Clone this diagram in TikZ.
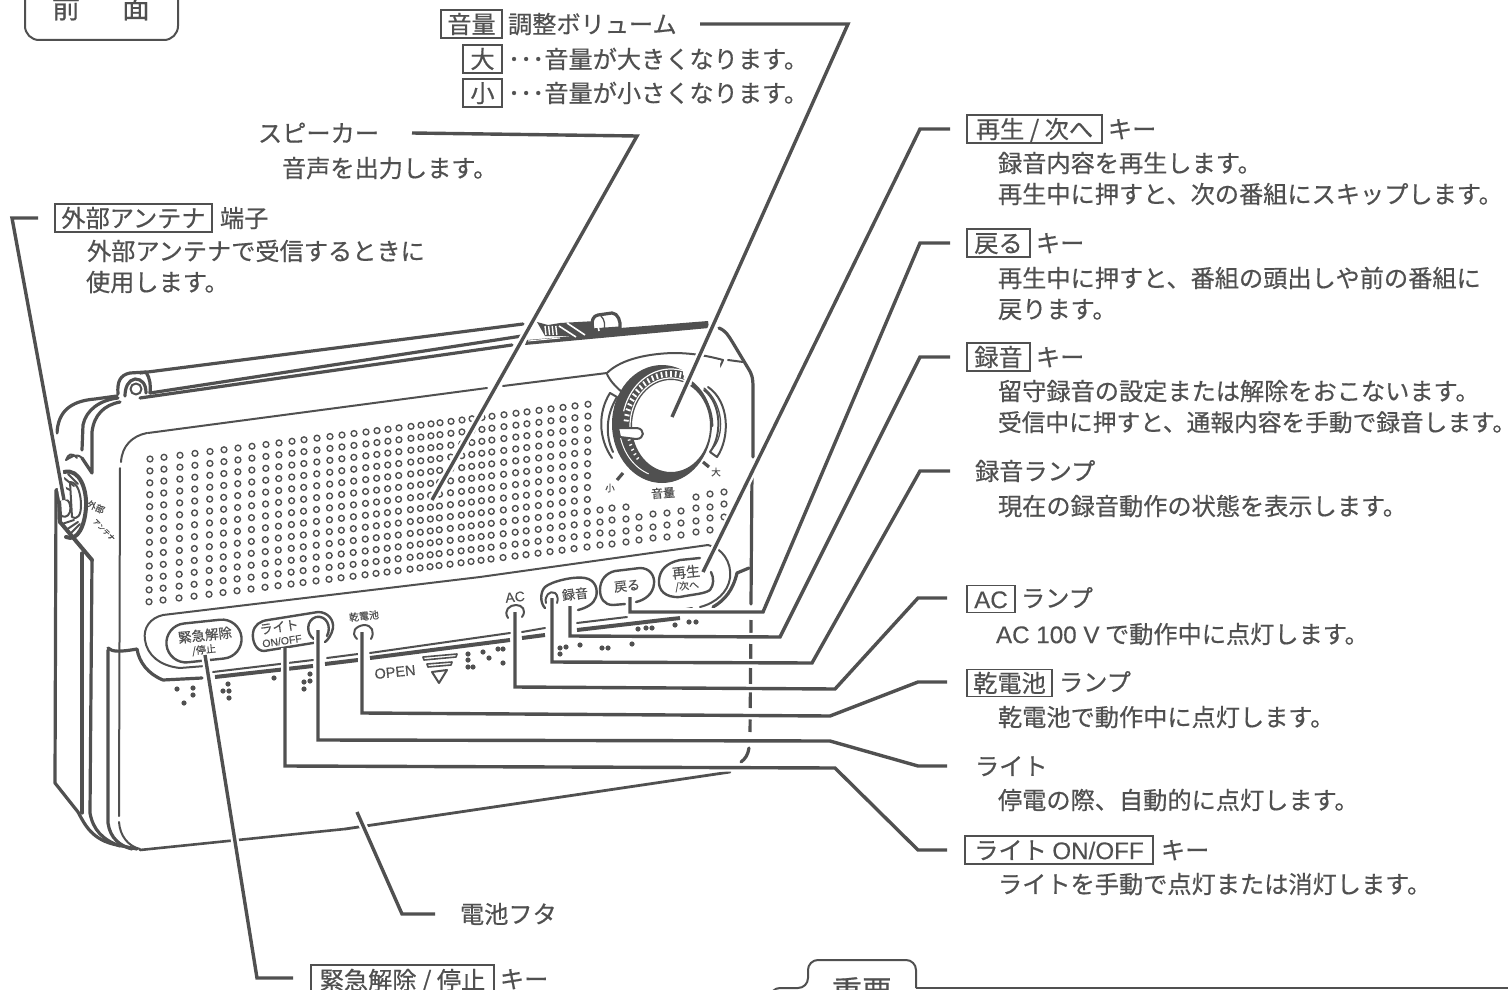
\documentclass[tikz,border=0pt]{standalone}
\usepackage{fontspec}
\setmainfont[FakeBold=0.5]{Noto Sans CJK JP}
\newfontfamily\lat[FakeBold=0.3]{Liberation Sans}
\definecolor{ink}{HTML}{505050}
\usetikzlibrary{shapes.misc}
\tikzset{
  txt/.style={anchor=west,inner sep=0pt,outer sep=0pt,text=ink,font=\fontsize{24.2}{26}\selectfont,text height=21.3pt,text depth=2.9pt},
  boxl/.style={txt,draw=ink,line width=1.6pt,inner sep=0pt,anchor=west,align=center},
  keyt/.style={inner sep=0pt,text=ink},
  leader/.style={draw=ink,line width=3.4pt,line join=miter,preaction={draw=white,line width=8pt,line cap=butt}},
  shell/.style={draw=ink,line width=3.2pt,line cap=round,line join=round},
  thin/.style={draw=ink,line width=2pt,line cap=round,line join=round},
  hair/.style={draw=ink,line width=1.3pt,line cap=round,line join=round},
  hole/.style={draw=ink,line width=1.4pt},
  bump/.style={fill=ink,draw=none},
  pill/.style={draw=ink,line width=2.4pt,rounded rectangle,minimum height=36pt},
}
\begin{document}
\begin{tikzpicture}[x=1pt,y=-1pt]
\useasboundingbox (0,0) rectangle (1508,990);
\clip (0,0) rectangle (1508,990);
\fill[white] (0,0) rectangle (1508,990);

% ---------- speaker holes
\def\colxs{150,164,180,195,210,224,238,252,266,279,292,304,317,330,342,354,366,377,388,399,411,421,431,440,451,462,472,482,492,504,516,527,539,551,563,575,588}
\foreach \cx in \colxs {
  \foreach \r in {0,...,12} {
    \draw[hole] ({\cx-0.08*\r},{459-0.125*(\cx-150)+11.9*\r}) circle[radius=2.9pt];
  }
}
\foreach \cx/\cy in {600/510,600/522,600/533,600/545,612/508,612/520,612/533,612/544,626/507,626/519,626/531,626/542,639/517,639/528,639/540,653/514,653/527,653/538,667/513,667/525,667/537,681/511,681/523,681/535,696/497,696/508,696/521,696/532,710/494,710/507,710/518,710/530,724/492,724/504,724/517} {
  \draw[hole] (\cx,\cy) circle[radius=2.9pt];
}

% ---------- carrying strap / top edge
\draw[shell] (140,373) -- (523,324);
\draw[shell] (150,393) -- (522,336);
\draw[shell] (140,398) -- (512,345);
% top-right band and clip
\fill[ink] (537,322) -- (548,325) -- (560,323) -- (596,321) -- (596,331) -- (620,328) -- (708,321) -- (709,328) -- (525,345) -- (527,340) -- (575,336) -- (545,336) -- cycle;
\foreach \i in {0,...,3} { \draw[white,line width=1.4pt] ({545+3.6*\i},326) -- ({546+3.6*\i},335); }
\draw[white,line width=1.6pt] (559,326) -- (576,337);
\draw[white,line width=1.6pt] (567,323) -- (585,335);
\draw[white,line width=1pt] (528,341) -- (560,338);
\draw[shell,fill=white] (593,330) .. controls (591,320) and (593,316) .. (598,315) -- (612,313) .. controls (618,313) and (621,322) .. (620,328) -- cycle;
\draw[white,line width=1.6pt] (597,321) -- (599,331);
\draw[hair] (601,316) .. controls (605,320) and (605,325) .. (604,330);
% top-left hinge
\draw[shell] (118,394) .. controls (117,382) and (120,375) .. (130,373) -- (146,372) .. controls (150,378) and (151,386) .. (150,393);
\draw[shell] (125,396) .. controls (125,388) and (128,380) .. (135,379) .. controls (142,379) and (146,384) .. (146,393);
\draw[hair,line width=2pt] (136,389) circle[radius=5.5pt];

% ---------- shell, right side
\draw[shell] (719,328) .. controls (726,331) and (728,335) .. (733,343) -- (748,368) .. controls (752,374) and (753,378) .. (753,388) -- (753,457);
\draw[shell] (752,470) -- (751,604);
\draw[shell,line cap=butt,dash pattern=on 16pt off 8pt] (751,620) -- (750,737);
\draw[shell] (749,748) .. controls (748,755) and (745,759) .. (741,762);

% ---------- front panel outline
\draw[thin] (147,433) .. controls (132,436) and (122,446) .. (121,462);
\draw[thin] (148,433) -- (487,388);
\draw[thin] (503,386) -- (607,373);
\draw[thin] (607,373) .. controls (618,362) and (640,354) .. (673,353) .. controls (695,353) and (712,357) .. (723,360);
\draw[thin] (728,360) -- (743,362);
\draw[thin] (607,374) .. controls (610,381) and (616,387) .. (623,393);
\draw[thin] (723,360) .. controls (720,368) and (714,376) .. (705,383);
\draw[thin] (120,468) -- (119,816);
\draw[thin] (119,822) .. controls (120,836) and (128,846) .. (140,849);

% bottom edge
\draw[shell,line width=2.6pt] (140,850) -- (345,829);
\draw[shell,line width=2.8pt] (345,829) -- (730,772);

% left body
\draw[shell] (117,396) -- (95,399) .. controls (70,401) and (58,412) .. (57,433);
\draw[shell] (118,398) .. controls (100,400) and (86,410) .. (83,425) -- (82,450);
\draw[shell] (120,402) .. controls (104,405) and (94,415) .. (92,432) -- (92,473) -- (82,458);
\draw[thin] (82,458) .. controls (76,452) and (70,458) .. (66,460) .. controls (68,454) and (72,452) .. (77,458);
\draw[shell] (56,490) -- (55,783) -- (78,812) .. controls (85,825) and (92,840) .. (117,845) -- (137,849);
\draw[shell] (92,560) -- (90,813) .. controls (93,830) and (103,840) .. (120,846);
\draw[shell] (82,553) -- (82,813);
\draw[shell,line width=4pt] (60,522) -- (92,560);
\draw[shell] (108,650) -- (108,823) .. controls (110,838) and (120,846) .. (132,849);
\draw[shell] (108,648) .. controls (112,652) and (120,652) .. (137,649) .. controls (139,662) and (148,674) .. (163,680) -- (202,678);
% jack
\draw[shell,line width=4pt] (64,472) .. controls (80,468) and (87,490) .. (86,507) .. controls (85,525) and (78,542) .. (66,537);
\draw[thin,fill=white] (70,482) .. controls (78,482) and (81,495) .. (81,505) .. controls (81,515) and (78,520) .. (72,517) -- cycle;
\foreach \hx/\hy/\hu/\hv in {64/478/74/486,68/474/78/484,62/486/70/490,62/524/74/520,66/530/78/522,70/534/80/524} {
  \draw[hair,line width=2pt] (\hx,\hy) -- (\hu,\hv);
}
\draw[shell,line width=4pt] (57,490) .. controls (60,500) and (60,520) .. (60,522);
\draw[thin] (60,500) .. controls (66,496) and (72,502) .. (70,512) .. controls (68,518) and (62,518) .. (60,514);
\node[keyt,font=\fontsize{9}{9}\selectfont,rotate=-25] (sidea) at (96,507) {外部};
\node[keyt,font=\fontsize{7}{8}\selectfont,rotate=-45] (sideb) at (104,530) {アンテナ};

% ---------- button panel
\draw[thin] (163,615) -- (480,577) -- (708,545);
\draw[thin] (163,615) .. controls (150,618) and (143,628) .. (145,640) .. controls (147,655) and (160,666) .. (180,668) -- (205,666);
\draw[thin] (708,545) .. controls (722,548) and (732,562) .. (730,578) .. controls (728,592) and (716,603) .. (700,607);
\draw[thin] (680,610) -- (692,608);
\draw[thin] (213,672) -- (313,660);
\draw[thin] (327,658) -- (358,654);
\draw[thin] (370,653) -- (510,633);
\draw[thin] (522,632) -- (545,628);
\draw[thin] (577,623) -- (627,617);
% thick lower band
\draw[shell,line width=4pt,line cap=butt] (215,677) -- (313,666);
\draw[shell,line width=4pt,line cap=butt] (325,664) -- (358,660);
\draw[shell,line width=4pt,line cap=butt] (370,658) -- (510,640);
\draw[shell,line width=4pt,line cap=butt] (522,638) -- (545,635);
\draw[shell,line width=4pt,line cap=butt] (577,630) -- (680,618);
\draw[shell] (713,607) .. controls (725,600) and (733,590) .. (737,573) -- (749,568);

% buttons
\node[pill,minimum width=82pt,minimum height=39pt,rotate=6] (bKinkyu) at (204,641) {};
\node[keyt,font=\fontsize{13.5}{14}\selectfont,rotate=6] (tKinkyu1) at (205,635) {緊急解除};
\node[keyt,font=\fontsize{10}{10}\selectfont,rotate=6] (tKinkyu2) at (204,650) {/停止};
\draw[thin,line width=2.4pt] (319,642) -- (264,651) .. controls (256,651) and (252,641) .. (253,633) .. controls (254,625) and (260,621) .. (268,620) -- (318,612) .. controls (328,612) and (334,620) .. (333,628) .. controls (332,634) and (328,640) .. (325,642);
\draw[thin,line width=2.4pt] (314,639) .. controls (306,634) and (306,620) .. (316,617) .. controls (326,615) and (332,626) .. (327,636);
\node[keyt,font=\fontsize{13}{14}\selectfont,rotate=8] (tLight1) at (279,627) {ライト};
\node[keyt,font=\lat\fontsize{10.5}{11}\selectfont,rotate=8] (tLight2) at (282,641) {ON/OFF};
\draw[thin] (357,639) .. controls (350,632) and (356,626) .. (364,625) .. controls (372,625) and (375,632) .. (371,639);
\node[keyt,font=\fontsize{10}{10}\selectfont,rotate=6] (tDry) at (364,616) {乾電池};
\draw[thin] (508,618) .. controls (503,610) and (510,605) .. (516,605) .. controls (522,605) and (527,610) .. (522,617);
\node[keyt,font=\lat\fontsize{14}{14}\selectfont,rotate=6] (tAC) at (515,597) {AC};
% rec pill
\draw[thin,line width=2.4pt] (545,608) .. controls (540,603) and (540,592) .. (545,587) .. controls (552,581) and (575,576) .. (585,578) .. controls (596,580) and (598,590) .. (596,597) .. controls (594,604) and (586,608) .. (578,610);
\draw[thin] (546,603) .. controls (544,596) and (550,590) .. (555,593) .. controls (558,595) and (558,600) .. (557,603);
\node[keyt,font=\fontsize{13}{14}\selectfont,rotate=6] (tRec) at (575,594) {録音};
% back pill
\draw[thin,line width=2.4pt] (625,604) -- (613,605) .. controls (604,605) and (600,598) .. (600,590) .. controls (600,580) and (606,573) .. (615,571) -- (640,568) .. controls (650,568) and (655,576) .. (654,584) .. controls (653,594) and (645,600) .. (636,602);
\node[keyt,font=\fontsize{13}{14}\selectfont,rotate=6] (tBack) at (627,586) {戻る};
% play pill
\draw[thin,line width=2.4pt] (710,590) .. controls (704,594) and (695,594) .. (680,597) .. controls (665,598) and (658,590) .. (659,580) .. controls (660,570) and (666,563) .. (680,560) -- (700,558);
\draw[thin,line width=2.4pt] (711,572) .. controls (714,578) and (714,585) .. (710,590);
\node[keyt,font=\fontsize{14}{14}\selectfont,rotate=6] (tPlay1) at (686,572) {再生};
\node[keyt,font=\fontsize{10}{10}\selectfont,rotate=6] (tPlay2) at (687,586) {/次へ};

% OPEN mark
\node[keyt,font=\lat\fontsize{14.5}{15}\selectfont,rotate=6] (tOpen) at (395,672) {OPEN};
\draw[thin,line width=1.6pt] (423,657) -- (457,654) -- (456,657) -- (424,660) -- cycle;
\draw[thin,line width=1.6pt] (427,664) -- (452,662) -- (451,665) -- (428,667) -- cycle;
\draw[thin] (432,672) -- (447,670) -- (439,683) -- cycle;

% bumps
\foreach \bx/\by in {177/689,193/688,193/695,184/703,228/684,223/691,229/691,229/698,274/678,310/674,310/681,304/682,304/689,468/654,483/652,498/649,503/649,468/660,468/667,473/667,489/658,503/663,560/648,566/647,580/645,602/648,608/648,632/644,560/654,638/629,646/628,652/628,675/625,689/622,696/622} {
  \fill[bump] (\bx,\by) circle[radius=2.6pt];
}

% ---------- knob
\fill[ink,even odd rule] (662,424) ellipse [x radius=50pt,y radius=59pt] (671,426) ellipse [x radius=39pt,y radius=46pt];
\fill[white] (683,360) -- (720,360) -- (722,424) -- (712,424) .. controls (712,400) and (700,384) .. (683,375) -- cycle;
\draw[shell,line width=2.6pt] plot[smooth,samples=40,domain=-62:0] ({672+40*cos(\x)},{426+47*sin(\x)});
\draw[white,line width=1.2pt] plot[smooth,samples=40,domain=195:290] ({671+49*cos(\x)},{426+57*sin(\x)});
\draw[white,line width=1.2pt] plot[smooth,samples=40,domain=170:300] ({671+41*cos(\x)},{426+48*sin(\x)});
\draw[white,line width=1pt] plot[smooth,samples=40,domain=110:165] ({664+45*cos(\x)},{424+53*sin(\x)});
\foreach \t in {186,192,...,294} {
  \draw[white,line width=1.8pt] ({671+42.5*cos(\t)},{426+49.5*sin(\t)}) -- ({671+47.5*cos(\t)},{426+55*sin(\t)});
}
\foreach \t in {140,146,...,172} {
  \draw[white,line width=1.3pt] ({671+42*cos(\t)},{426+49*sin(\t)}) -- ({671+45*cos(\t)},{426+52*sin(\t)});
}
\draw[thin,fill=white] (618,428) -- (637,428) .. controls (645,429) and (645,439) .. (636,439) -- (620,437) -- cycle;
\draw[hair,line width=2pt] (610,393) .. controls (598,412) and (598,438) .. (612,458);
\draw[hair,line width=2pt] (610,393) -- (617,397);
\draw[hair,line width=2pt] (617,397) .. controls (606,415) and (605,435) .. (613,452);
\draw[hair,line width=2pt] (708,387) .. controls (730,402) and (730,438) .. (717,457) -- (710,452) .. controls (722,436) and (722,404) .. (704,390);
\draw[hair] (704,388) .. controls (724,404) and (725,436) .. (712,449);
\draw[shell,line cap=butt] (623,473) -- (617,480);
\draw[shell,line cap=butt] (703,462) -- (709,467);
\node[keyt,font=\fontsize{9.5}{10}\selectfont] (tSmall) at (610,488) {小};
\node[keyt,font=\fontsize{9.5}{10}\selectfont] (tBig) at (716,472) {大};
\node[keyt,font=\fontsize{12}{12}\selectfont,rotate=4] (tVol) at (663,493) {音量};

% ---------- ends of the leaders
\coordinate (eVol) at (672,417);
\coordinate (eSpk) at (432,500);
\coordinate (eAnt) at (64,500);
\coordinate (ePlay) at (703,572);
\coordinate (eBack) at (630,597);
\coordinate (eRec) at (570,606);
\coordinate (eRecL) at (552,598);
\coordinate (eAC) at (515,612);
\coordinate (eDry) at (362,632);
\coordinate (eLamp) at (318,630);
\coordinate (eOnOff) at (285,648);
\coordinate (eLid) at (357,812);
\coordinate (eStop) at (205,655);

\coordinate (sVol) at (700,24);
\coordinate (sSpk) at (412,133);
\coordinate (sAnt) at (38,218);
\coordinate (sPlay) at (950,129);
\coordinate (sBack) at (950,243);
\coordinate (sRec) at (950,357);
\coordinate (sRecL) at (950,471);
\coordinate (sAC) at (947,598);
\coordinate (sDry) at (947,682);
\coordinate (sLamp) at (947,766);
\coordinate (sOnOff) at (947,850);
\coordinate (sLid) at (435,914);
\coordinate (sStop) at (293,978);

\draw[leader] (sVol) -- (848,24) -- (eVol);
\draw[leader] (sSpk) -- (637,136) -- (eSpk);
\draw[leader] (sAnt) -- (12,218) -- (eAnt);
\draw[leader] (sPlay) -- (920,129) -- (ePlay);
\draw[leader] (sBack) -- (920,243) -- (763,612) -- (630,612) -- (eBack);
\draw[leader] (sRec) -- (920,357) -- (780,637) -- (570,636) -- (eRec);
\draw[leader] (sRecL) -- (920,471) -- (812,663) -- (552,662) -- (eRecL);
\draw[leader] (sAC) -- (918,598) -- (835,689) -- (515,687) -- (eAC);
\draw[leader] (sDry) -- (918,682) -- (830,716) -- (362,713) -- (eDry);
\draw[leader] (sLamp) -- (918,766) -- (830,741) -- (318,740) -- (eLamp);
\draw[leader] (sOnOff) -- (918,850) -- (835,768) -- (285,766) -- (eOnOff);
\draw[leader] (sLid) -- (402,914) -- (eLid);
\draw[leader] (sStop) -- (257,978) -- (eStop);

% ---------- top-left title tab
\draw[draw=ink,line width=2pt,rounded corners=14pt] (25,-30) -- (25,40) -- (178,40) -- (178,-30);
\node[txt,font=\fontsize{28}{28}\selectfont] (title) at (52,9) {前\hspace*{42pt}面};

% ---------- labels
\node[boxl,minimum width=61pt,minimum height=28pt] (lVol) at (441,24) {音量};
\node[txt] (lVol2) at (508,24) {調整ボリューム};
\node[boxl,minimum width=39pt,minimum height=28pt] (lBig) at (463,59) {大};
\node[txt] (lBig2) at (508,59) {･･･音量が大きくなります。};
\node[boxl,minimum width=39pt,minimum height=28pt] (lSm) at (463,93) {小};
\node[txt] (lSm2) at (508,93) {･･･音量が小さくなります。};
\node[txt] (lSpk) at (258,133) {スピーカー};
\node[txt] (lSpk2) at (282,168) {音声を出力します。};
\node[boxl,minimum width=157pt,minimum height=28pt] (lAnt) at (55,218) {外部アンテナ};
\node[txt] (lAnt2) at (220,218) {端子};
\node[txt] (lAnt3) at (87,251) {外部アンテナで受信するときに};
\node[txt] (lAnt4) at (86,282) {使用します。};
\node[boxl,minimum width=135pt,minimum height=28pt] (lPlay) at (967,129) {再生 / 次へ};
\node[txt] (lPlay2) at (1108,129) {キー};
\node[txt] (lPlay3) at (998,163) {録音内容を再生します。};
\node[txt] (lPlay4) at (998,194) {再生中に押すと、次の番組にスキップします。};
\node[boxl,minimum width=63pt,minimum height=28pt] (lBack) at (967,243) {戻る};
\node[txt] (lBack2) at (1036,243) {キー};
\node[txt] (lBack3) at (998,278) {再生中に押すと、番組の頭出しや前の番組に};
\node[txt] (lBack4) at (998,309) {戻ります。};
\node[boxl,minimum width=63pt,minimum height=28pt] (lRec) at (967,357) {録音};
\node[txt] (lRec2) at (1036,357) {キー};
\node[txt] (lRec3) at (998,391) {留守録音の設定または解除をおこないます。};
\node[txt,font=\fontsize{23.7}{26}\selectfont] (lRec4) at (998,422) {受信中に押すと、通報内容を手動で録音します。};
\node[txt] (lRecL) at (975,471) {録音ランプ};
\node[txt] (lRecL2) at (998,506) {現在の録音動作の状態を表示します。};
\node[boxl,minimum width=48pt,minimum height=27pt] (lAC) at (967,599) {\lat AC};
\node[txt] (lAC2) at (1021,598) {ランプ};
\node[txt] (lAC3) at (996,634) {{\lat AC 100 V} で動作中に点灯します。};
\node[boxl,minimum width=85pt,minimum height=27pt] (lDry) at (967,683) {乾電池};
\node[txt] (lDry2) at (1059,682) {ランプ};
\node[txt] (lDry3) at (998,717) {乾電池で動作中に点灯します。};
\node[txt] (lLamp) at (975,766) {ライト};
\node[txt] (lLamp2) at (998,800) {停電の際、自動的に点灯します。};
\node[boxl,minimum width=188pt,minimum height=28pt] (lOnOff) at (965,850) {ライト {\lat ON/OFF}};
\node[txt] (lOnOff2) at (1161,850) {キー};
\node[txt] (lOnOff3) at (998,884) {ライトを手動で点灯または消灯します。};
\node[txt] (lLid) at (460,914) {電池フタ};
\node[boxl,minimum width=183pt,minimum height=30pt] (lStop) at (311,980) {緊急解除 / 停止};
\node[txt] (lStop2) at (500,979) {キー};

% ---------- bottom notice tab
\draw[draw=ink,line width=2pt,rounded corners=10pt] (770,1004) -- (770,988) -- (808,988) -- (808,960) -- (916,960) -- (916,988);
\draw[draw=ink,line width=2pt] (916,988) -- (1508,988);
\node[txt,font=\fontsize{30}{30}\selectfont] (lNotice) at (832,993) {重要};
\end{tikzpicture}
\end{document}
